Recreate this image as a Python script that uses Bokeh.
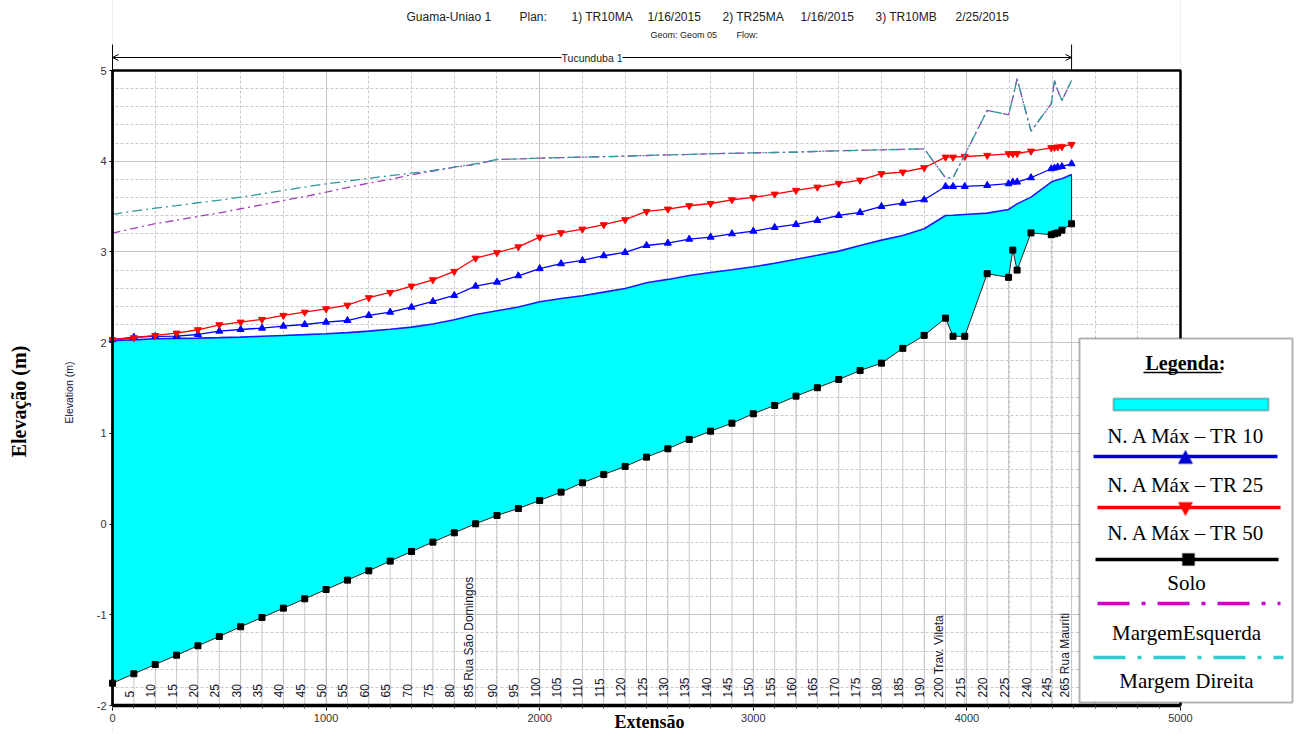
import math
from bokeh.plotting import figure
from bokeh.models import (Range1d, SingleIntervalTicker, Label, BoxAnnotation,
                          PolyAnnotation, Arrow, OpenHead, LinearAxis, Grid,
                          PrintfTickFormatter)
from bokeh.embed import file_html
from bokeh.resources import INLINE
from bokeh.core.properties import value

# ---------------- data ----------------
stations = [0, 100, 200, 300, 400, 500, 600, 700, 800, 900,
            1000, 1100, 1200, 1300, 1400, 1500, 1600, 1700, 1800, 1900,
            2000, 2100, 2200, 2300, 2400, 2500, 2600, 2700, 2800, 2900,
            3000, 3100, 3200, 3300, 3400, 3500, 3600, 3700, 3800, 3900,
            3935, 3990, 4095, 4195, 4215, 4235, 4300, 4395, 4410, 4425,
            4445, 4490]

station_names = ["", "5", "10", "15", "20", "25", "30", "35", "40", "45",
                 "50", "55", "60", "65", "70", "75", "80", "85 Rua São Domingos", "90", "95",
                 "100", "105", "110", "115", "120", "125", "130", "135", "140", "145",
                 "150", "155", "160", "165", "170", "175", "180", "185", "190", "200 Trav. Vileta",
                 "", "215", "220", "225", "", "", "240", "245", "", "",
                 "", "265 Rua Mauriti"]

bed = [-1.754, -1.650, -1.548, -1.445, -1.342, -1.239, -1.132, -1.030, -0.927, -0.824,
       -0.721, -0.618, -0.515, -0.408, -0.302, -0.199, -0.096, 0.003, 0.095, 0.172,
       0.260, 0.352, 0.455, 0.547, 0.635, 0.738, 0.830, 0.933, 1.024, 1.112,
       1.216, 1.308, 1.410, 1.503, 1.594, 1.693, 1.774, 1.937, 2.080, 2.270,
       2.070, 2.070, 2.760, 2.720, 3.020, 2.800, 3.210, 3.190, 3.200, 3.210,
       3.240, 3.310]

ws_tr10 = [2.024, 2.030, 2.043, 2.047, 2.050, 2.055, 2.061, 2.070, 2.079, 2.088,
           2.098, 2.110, 2.127, 2.148, 2.171, 2.205, 2.252, 2.311, 2.352, 2.392,
           2.450, 2.487, 2.517, 2.557, 2.597, 2.660, 2.697, 2.741, 2.774, 2.803,
           2.836, 2.876, 2.920, 2.964, 3.009, 3.071, 3.130, 3.181, 3.255, 3.402,
           3.405, 3.413, 3.428, 3.468, 3.500, 3.530, 3.604, 3.770, 3.785, 3.795,
           3.807, 3.854]

ws_tr25 = [2.032, 2.060, 2.068, 2.072, 2.090, 2.127, 2.145, 2.160, 2.182, 2.200,
           2.226, 2.244, 2.300, 2.336, 2.391, 2.454, 2.520, 2.623, 2.667, 2.737,
           2.816, 2.870, 2.906, 2.958, 2.994, 3.071, 3.097, 3.141, 3.163, 3.200,
           3.229, 3.270, 3.303, 3.347, 3.402, 3.435, 3.501, 3.538, 3.575, 3.722,
           3.722, 3.722, 3.733, 3.752, 3.770, 3.770, 3.818, 3.917, 3.925, 3.935,
           3.942, 3.972]

ws_tr50 = [2.032, 2.054, 2.079, 2.105, 2.142, 2.197, 2.226, 2.256, 2.300, 2.336,
           2.373, 2.413, 2.495, 2.553, 2.623, 2.693, 2.785, 2.931, 2.992, 3.056,
           3.163, 3.211, 3.251, 3.300, 3.355, 3.446, 3.472, 3.509, 3.534, 3.575,
           3.601, 3.637, 3.678, 3.714, 3.755, 3.791, 3.862, 3.880, 3.928, 4.045,
           4.045, 4.052, 4.064, 4.082, 4.082, 4.085, 4.111, 4.148, 4.152, 4.156,
           4.160, 4.185]

left_bank = [3.207, 3.260, 3.311, 3.350, 3.391, 3.430, 3.476, 3.520, 3.567, 3.610,
             3.659, 3.710, 3.758, 3.800, 3.851, 3.890, 3.935, 3.964, 4.019, 4.025,
             4.034, 4.040, 4.045, 4.050, 4.056, 4.063, 4.070, 4.075, 4.082, 4.087,
             4.092, 4.096, 4.100, 4.108, 4.115, 4.120, 4.126, 4.130, 4.137, 3.817,
             3.817, 4.070, 4.560, 4.512, 4.700, 4.909, 4.331, 4.633, 4.890, 4.780,
             4.670, 4.890]

right_bank = [3.413, 3.450, 3.483, 3.510, 3.542, 3.570, 3.604, 3.640, 3.678, 3.715,
              3.751, 3.780, 3.813, 3.840, 3.869, 3.900, 3.935, 3.972, 4.019, 4.025,
              4.034, 4.040, 4.045, 4.050, 4.056, 4.063, 4.070, 4.075, 4.082, 4.087,
              4.092, 4.096, 4.100, 4.108, 4.115, 4.120, 4.126, 4.130, 4.137, 3.817,
              3.817, 4.070, 4.560, 4.512, 4.700, 4.909, 4.331, 4.633, 4.890, 4.780,
              4.670, 4.890]

reach_name = "Tucunduba 1"
subtitle_parts = ["Guama-Uniao 1", "Plan:", "1) TR10MA", "1/16/2015", "2) TR25MA",
                  "1/16/2015", "3) TR10MB", "2/25/2015"]
subtitle2_parts = ["Geom: Geom 05", "Flow:"]
legend_texts = ["N. A Máx – TR 10", "N. A Máx – TR 25", "N. A Máx – TR 50",
                "Solo", "MargemEsquerda", "Margem Direita"]

# ---------------- layout ----------------
W, H = 1300, 733
PL, PR, PT, PB = 112, 1180, 70, 705          # plot region on the page (px)
XMIN, XMAX, YMIN, YMAX = 0, 5000, -2, 5
kx = (XMAX - XMIN) / (PR - PL)
ky = (YMAX - YMIN) / (PB - PT)


def dx(px):  # page pixel -> data x
    return XMIN + (px - PL) * kx


def dy(py):  # page pixel -> data y
    return YMAX - (py - PT) * ky


p = figure(width=W, height=H,
           x_range=Range1d(dx(0), dx(W)), y_range=Range1d(dy(H), dy(0)),
           output_backend="svg", toolbar_location=None,
           x_axis_location=None, y_axis_location=None,
           min_border_left=0, min_border_right=0, min_border_top=0, min_border_bottom=0)
p.center = [c for c in p.center if not isinstance(c, Grid)]
p.background_fill_color = "white"
p.border_fill_color = "white"
p.outline_line_color = None

# grids restricted to the plot region
xg = Grid(dimension=0, ticker=SingleIntervalTicker(interval=1000, num_minor_ticks=5),
          bounds=(XMIN, XMAX))
yg = Grid(dimension=1, ticker=SingleIntervalTicker(interval=1, num_minor_ticks=5),
          bounds=(YMIN, YMAX))
for g in (xg, yg):
    g.grid_line_color = "#c4c4c4"
    g.grid_line_width = 1
    g.minor_grid_line_color = "#cacaca"
    g.minor_grid_line_dash = "3 2"
    g.minor_grid_line_width = 1
    p.add_layout(g)

# white cover outside the plot region (hides grid overflow)
xr0, xr1, yr0, yr1 = dx(0), dx(W), dy(H), dy(0)
p.quad(left=[xr0, XMAX, XMIN, XMIN], right=[XMIN, xr1, XMAX, XMAX],
       bottom=[yr0, yr0, YMAX, yr0], top=[yr1, yr1, yr1, YMIN],
       fill_color="white", line_color=None)

# axes fixed at the plot region edges
xaxis = LinearAxis(fixed_location=YMIN, bounds=(XMIN, XMAX),
                   ticker=SingleIntervalTicker(interval=1000, num_minor_ticks=10))
yaxis = LinearAxis(fixed_location=XMIN, bounds=(YMIN, YMAX),
                   ticker=SingleIntervalTicker(interval=1, num_minor_ticks=5),
                   formatter=PrintfTickFormatter(format="%d"))
for ax in (xaxis, yaxis):
    ax.axis_line_color = "black"
    ax.major_tick_line_color = "black"
    ax.major_label_text_font = "Liberation Sans"
    ax.major_label_text_font_size = "11px"
    ax.major_label_text_color = "#333333"
xaxis.axis_line_width = 3.5
yaxis.axis_line_width = 2
xaxis.major_tick_out = 5
xaxis.major_tick_in = 0
xaxis.minor_tick_out = 3
xaxis.minor_tick_in = 0
xaxis.minor_tick_line_color = "#444444"
xaxis.major_label_standoff = 3
yaxis.major_tick_out = 3
yaxis.major_tick_in = 0
yaxis.minor_tick_line_color = None
yaxis.major_label_standoff = 2
p.add_layout(xaxis, "below")
p.add_layout(yaxis, "left")

# station lines (from bottom up to the bed) at the labelled sections
lab_x = [s for s, n in zip(stations, station_names) if n]
lab_bed = [b for b, n in zip(bed, station_names) if n]
p.segment(x0=lab_x, y0=[YMIN] * len(lab_x), x1=lab_x, y1=lab_bed,
          line_color="#c8c8c8", line_width=1)

# water area TR10
p.varea(x=stations, y1=bed, y2=ws_tr10, fill_color="#00ffff")
p.segment(x0=[stations[-1]], y0=[bed[-1]], x1=[stations[-1]], y1=[ws_tr10[-1]],
          line_color="#0000cc", line_width=1)
p.line(stations, ws_tr10, line_color="#1a1aff", line_width=1.6)

# bed
p.line(stations, bed, line_color="#222222", line_width=1)
p.scatter(stations, bed, marker="square", size=6, fill_color="black", line_color="black")

# TR25 / TR50
p.line(stations, ws_tr25, line_color="#0000ff", line_width=1.3)
p.scatter(stations, ws_tr25, marker="triangle", size=7, fill_color="#0000ff", line_color="#0000ff")
p.line(stations, ws_tr50, line_color="#ff0000", line_width=1.3)
p.scatter(stations, ws_tr50, marker="inverted_triangle", size=7, fill_color="#ff0000", line_color="#ff0000")

# banks
p.line(stations, left_bank, line_color="#a040b8", line_width=1.3, line_dash="8 4 2 4")
p.line(stations, right_bank, line_color="#2e9a9a", line_width=1.3, line_dash="10 4 2 4")

# plot region border (top / right)
p.quad(left=[XMIN], right=[XMAX], bottom=[YMIN], top=[YMAX], fill_color=None,
       line_color="black", line_width=2.5)

# station labels
p.text(x=stations, y=[dy(697)] * len(stations), text=station_names, angle=math.pi / 2,
       text_align="left", text_baseline="bottom", text_font=value("Liberation Sans"),
       text_font_size="12px", text_color="#15152a")

# ---------------- texts around the plot ----------------
yb = dy(57)
p.add_layout(Arrow(x_start=stations[0], y_start=yb, x_end=stations[-1], y_end=yb,
                   start=OpenHead(size=6, line_width=1), end=OpenHead(size=6, line_width=1),
                   line_color="black", line_width=1))
for xs in (stations[0], stations[-1]):
    p.add_layout(Arrow(x_start=xs, y_start=dy(44), x_end=xs, y_end=YMAX, end=None,
                       line_color="black", line_width=1))
p.add_layout(Label(x=(stations[0] + stations[-1]) / 2, y=yb, text=reach_name,
                   text_align="center", text_baseline="middle", text_font="Liberation Sans",
                   text_font_size="10.5px", background_fill_color="white",
                   text_color="#222222"))

sub_x = [406, 519, 571, 647, 722, 800, 875, 955]
for t, xp in zip(subtitle_parts, sub_x):
    p.add_layout(Label(x=dx(xp), y=dy(16), text=t, text_align="left", text_baseline="middle",
                       text_font="Liberation Sans", text_font_size="12px", text_color="#222222"))
for t, xp in zip(subtitle2_parts, [650, 736]):
    p.add_layout(Label(x=dx(xp), y=dy(34), text=t, text_align="left", text_baseline="middle",
                       text_font="Liberation Sans", text_font_size="9px", text_color="#222222"))

p.add_layout(Label(x=dx(18), y=dy(401), text="Elevação (m)", angle=math.pi / 2,
                   text_align="center", text_baseline="middle", text_font="Liberation Serif",
                   text_font_style="bold", text_font_size="20px", text_color="black"))
p.add_layout(Label(x=dx(68), y=dy(392), text="Elevation (m)", angle=math.pi / 2,
                   text_align="center", text_baseline="middle", text_font="Liberation Sans",
                   text_font_size="10.5px", text_color="#101040"))
p.add_layout(Label(x=dx(649), y=dy(721), text="Extensão",
                   text_align="center", text_baseline="middle", text_font="Liberation Serif",
                   text_font_style="bold", text_font_size="18px", text_color="black"))

# ---------------- legend box ----------------
p.add_layout(BoxAnnotation(left=dx(1079), right=dx(1292), top=dy(338), bottom=dy(702),
                           fill_color="white", fill_alpha=1, line_color="black", line_width=2))
p.add_layout(Label(x=dx(1185), y=dy(362), text="Legenda:", text_align="center",
                   text_baseline="middle", text_font="Liberation Serif", text_font_style="bold",
                   text_font_size="20px", text_color="black"))
p.add_layout(Arrow(x_start=dx(1143), y_start=dy(372), x_end=dx(1221), y_end=dy(372), end=None,
                   line_color="black", line_width=1.5))
p.add_layout(BoxAnnotation(left=dx(1113), right=dx(1268), top=dy(398), bottom=dy(410),
                           fill_color="#00ffff", fill_alpha=1, line_color="#222222", line_width=2))

legend_text_y = [435, 484, 532, 582, 632, 680]
for t, yp in zip(legend_texts, legend_text_y):
    p.add_layout(Label(x=dx(1186), y=dy(yp), text=t, text_align="center", text_baseline="middle",
                       text_font="Liberation Serif", text_font_size="21px", text_color="black"))

leg_lines = [(1093, 1277, 456, "#0000cc", None),
             (1097, 1280, 507, "#ff0000", None),
             (1095, 1278, 559, "black", None),
             (1097, 1280, 603, "#cc00cc", "32 12 4 12"),
             (1093, 1283, 657, "#33cccc", "32 12 4 12")]
for x0, x1, yp, col, dash in leg_lines:
    kw = dict(x_start=dx(x0), y_start=dy(yp), x_end=dx(x1), y_end=dy(yp), end=None,
              line_color=col, line_width=3.5)
    if dash:
        kw["line_dash"] = dash
    p.add_layout(Arrow(**kw))

p.add_layout(PolyAnnotation(xs=[dx(1185), dx(1178), dx(1192)], ys=[dy(450), dy(463), dy(463)],
                            fill_color="#0000cc", fill_alpha=1, line_color="#0000cc", line_width=2))
p.add_layout(PolyAnnotation(xs=[dx(1178), dx(1192), dx(1185)], ys=[dy(502), dy(502), dy(515)],
                            fill_color="#ff0000", fill_alpha=1, line_color="#ff0000", line_width=2))
p.add_layout(BoxAnnotation(left=dx(1182), right=dx(1194), top=dy(553), bottom=dy(565),
                           fill_color="black", fill_alpha=1, line_color="black", line_width=1.5))

open("out.html", "w").write(file_html(p, INLINE))
